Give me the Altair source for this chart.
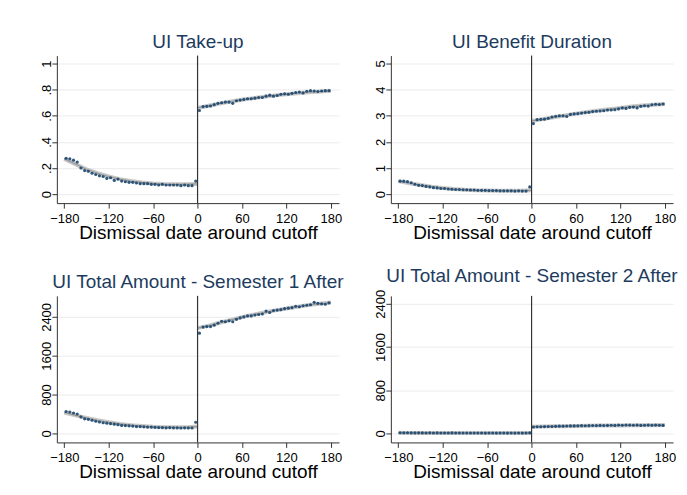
import altair as alt
import pandas as pd

# ---------------- data ----------------
DAYS_LEFT = [-177.5, -172.5, -167.5, -162.5, -157.5, -152.5, -147.5, -142.5, -137.5, -132.5,
             -127.5, -122.5, -117.5, -112.5, -107.5, -102.5, -97.5, -92.5, -87.5, -82.5,
             -77.5, -72.5, -67.5, -62.5, -57.5, -52.5, -47.5, -42.5, -37.5, -32.5,
             -27.5, -22.5, -17.5, -12.5, -7.5, -2.5]
DAYS_RIGHT = [2.5, 7.5, 12.5, 17.5, 22.5, 27.5, 32.5, 37.5, 42.5, 47.5,
              52.5, 57.5, 62.5, 67.5, 72.5, 77.5, 82.5, 87.5, 92.5, 97.5,
              102.5, 107.5, 112.5, 117.5, 122.5, 127.5, 132.5, 137.5, 142.5, 147.5,
              152.5, 157.5, 162.5, 167.5, 172.5, 177.5]

TAKEUP_L = [0.275, 0.27, 0.26, 0.245, 0.20, 0.18, 0.175, 0.16, 0.15, 0.14, 0.135, 0.12,
            0.125, 0.105, 0.115, 0.10, 0.095, 0.09, 0.09, 0.085, 0.08, 0.08, 0.08, 0.075,
            0.075, 0.07, 0.075, 0.07, 0.07, 0.07, 0.07, 0.065, 0.07, 0.065, 0.065, 0.10]
TAKEUP_R = [0.64, 0.67, 0.672, 0.675, 0.685, 0.695, 0.70, 0.705, 0.705, 0.695, 0.715, 0.72,
            0.725, 0.73, 0.73, 0.735, 0.74, 0.74, 0.75, 0.758, 0.75, 0.755, 0.765, 0.768,
            0.765, 0.772, 0.778, 0.782, 0.775, 0.788, 0.792, 0.79, 0.785, 0.79, 0.792, 0.792]

DUR_L = [0.50, 0.50, 0.48, 0.44, 0.38, 0.34, 0.33, 0.30, 0.28, 0.25, 0.24, 0.22, 0.22, 0.20,
         0.19, 0.18, 0.18, 0.17, 0.17, 0.16, 0.16, 0.15, 0.15, 0.15, 0.14, 0.14, 0.14, 0.13,
         0.13, 0.13, 0.13, 0.12, 0.13, 0.12, 0.12, 0.28]
DUR_R = [2.70, 2.85, 2.86, 2.87, 2.90, 2.95, 2.98, 3.00, 3.00, 2.97, 3.05, 3.07, 3.08, 3.10,
         3.12, 3.13, 3.16, 3.17, 3.18, 3.19, 3.22, 3.22, 3.23, 3.26, 3.30, 3.28, 3.32, 3.33,
         3.30, 3.36, 3.38, 3.37, 3.42, 3.44, 3.43, 3.45]

AMT1_L = [450, 440, 420, 400, 340, 300, 290, 270, 250, 235, 220, 210, 200, 190, 180, 165,
          160, 155, 150, 140, 140, 135, 130, 130, 125, 120, 120, 115, 120, 115, 115, 110,
          115, 110, 110, 230]
AMT1_R = [2065, 2190, 2200, 2200, 2230, 2270, 2310, 2300, 2320, 2300, 2350, 2380, 2400, 2420,
          2420, 2440, 2450, 2460, 2520, 2490, 2530, 2540, 2550, 2570, 2580, 2590, 2620, 2610,
          2630, 2640, 2650, 2700, 2680, 2670, 2660, 2690]

AMT2_L = [14, 12, 13, 12, 11, 12, 11, 10, 12, 10, 11, 10, 10, 9, 11, 9, 10, 9, 10, 9,
          10, 9, 9, 8, 9, 10, 8, 9, 9, 8, 9, 8, 9, 8, 9, 12]
AMT2_R = [120, 125, 125, 128, 130, 130, 132, 135, 135, 138, 140, 140, 142, 145, 143, 145,
          148, 147, 150, 148, 150, 152, 150, 155, 153, 158, 155, 152, 155, 150, 152, 155,
          153, 155, 152, 150]

FIT_X_L = [-180, -165, -150, -135, -120, -105, -90, -75, -60, -45, -30, -15, 0]
FIT_X_R = [0, 15, 30, 45, 60, 75, 90, 105, 120, 135, 150, 165, 180]

TAKEUP_FIT_L = [0.27, 0.23, 0.19, 0.16, 0.135, 0.115, 0.10, 0.09, 0.082, 0.077, 0.075, 0.076, 0.078]
TAKEUP_FIT_R = [0.66, 0.677, 0.694, 0.709, 0.722, 0.735, 0.746, 0.756, 0.765, 0.773, 0.78, 0.786, 0.791]
DUR_FIT_L = [0.50, 0.42, 0.35, 0.29, 0.24, 0.20, 0.17, 0.15, 0.14, 0.135, 0.13, 0.135, 0.15]
DUR_FIT_R = [2.80, 2.87, 2.94, 3.01, 3.08, 3.14, 3.20, 3.25, 3.30, 3.35, 3.39, 3.42, 3.45]
AMT1_FIT_L = [430, 370, 320, 270, 230, 195, 170, 150, 135, 128, 125, 128, 140]
AMT1_FIT_R = [2170, 2220, 2280, 2340, 2395, 2445, 2490, 2535, 2575, 2610, 2645, 2670, 2695]
AMT2_FIT_L = [12, 11, 11, 10, 10, 10, 9, 9, 9, 9, 9, 9, 10]
AMT2_FIT_R = [125, 128, 132, 136, 140, 143, 146, 148, 150, 152, 153, 154, 155]

TITLES = ["UI Take-up", "UI Benefit Duration",
          "UI Total Amount - Semester 1 After", "UI Total Amount - Semester 2 After"]
X_TICKS = [-180, -120, -60, 0, 60, 120, 180]
XLABEL = "Dismissal date around cutoff"

NAVY = "#1a476f"
TITLE_COLOR = "#1c3b5e"


def panel(title, yl, yr, fl, fr, ydomain, yticks, label_expr, h):
    pts = pd.DataFrame({"x": DAYS_LEFT + DAYS_RIGHT, "y": yl + yr})
    fit = pd.DataFrame({"x": FIT_X_L + FIT_X_R, "y": fl + fr,
                        "side": ["L"] * len(FIT_X_L) + ["R"] * len(FIT_X_R)})
    xenc = alt.X("x:Q", scale=alt.Scale(domain=[-190, 191], nice=False, zero=False),
                 axis=alt.Axis(values=X_TICKS, grid=False, title=XLABEL))
    yenc = alt.Y("y:Q", scale=alt.Scale(domain=ydomain, nice=False, zero=False),
                 axis=alt.Axis(values=yticks, grid=True, title=None, labelExpr=label_expr))
    band = alt.Chart(fit).mark_line(color="#c8c8c8", strokeWidth=4).encode(
        x=xenc, y=yenc, detail="side:N")
    core = alt.Chart(fit).mark_line(color="#999999", strokeWidth=1.2).encode(
        x=xenc, y=yenc, detail="side:N")
    dots = alt.Chart(pts).mark_circle(color=NAVY, size=10, opacity=0.9).encode(x=xenc, y=yenc)
    rule = alt.Chart(pd.DataFrame({"x": [0]})).mark_rule(color="#333333", strokeWidth=1.2).encode(x=xenc)
    return alt.layer(band, core, dots, rule).properties(
        title=title, width=283, height=h)


takeup_expr = ("(datum.value < 0.01 || datum.value > 0.99) ? format(datum.value, '.0f') "
               ": '.' + format(datum.value * 10, '.0f')")
int_expr = "format(datum.value, '.0f')"

p1 = panel(TITLES[0], TAKEUP_L, TAKEUP_R, TAKEUP_FIT_L, TAKEUP_FIT_R,
           [-0.069, 1.061], [0, 0.2, 0.4, 0.6, 0.8, 1], takeup_expr, 148)
p2 = panel(TITLES[1], DUR_L, DUR_R, DUR_FIT_L, DUR_FIT_R,
           [-0.34, 5.3], [0, 1, 2, 3, 4, 5], int_expr, 148)
p3 = panel(TITLES[2], AMT1_L, AMT1_R, AMT1_FIT_L, AMT1_FIT_R,
           [-186, 2834], [0, 800, 1600, 2400], int_expr, 147)
p4 = panel(TITLES[3], AMT2_L, AMT2_R, AMT2_FIT_L, AMT2_FIT_R,
           [-165, 2547], [0, 800, 1600, 2400], int_expr, 147)

chart = alt.concat(p1, p2, p3, p4, columns=2,
                   spacing={"row": 93, "column": 52}, bounds="flush").properties(
    padding={"left": 32, "top": 24, "right": 0, "bottom": 0},
    background="white",
).configure_view(stroke=None).configure_axis(
    domainColor="#333333", tickColor="#333333", tickSize=5,
    labelFont="Liberation Sans", labelFontSize=13, labelColor="#000000",
    titleFont="Liberation Sans", titleFontSize=19, titleFontWeight="normal",
    titleColor="#000000", gridColor="#ebebeb", gridWidth=1,
).configure_axisX(
    labelPadding=4, titlePadding=-2
).configure_axisY(
    labelAngle=-90, labelAlign="center", labelBaseline="alphabetic", labelPadding=1
).configure_title(
    font="Liberation Sans", fontSize=19, fontWeight="normal", color=TITLE_COLOR,
    anchor="middle", offset=3
)

chart.save("out.html", embed_options={"renderer": "svg", "actions": False})
